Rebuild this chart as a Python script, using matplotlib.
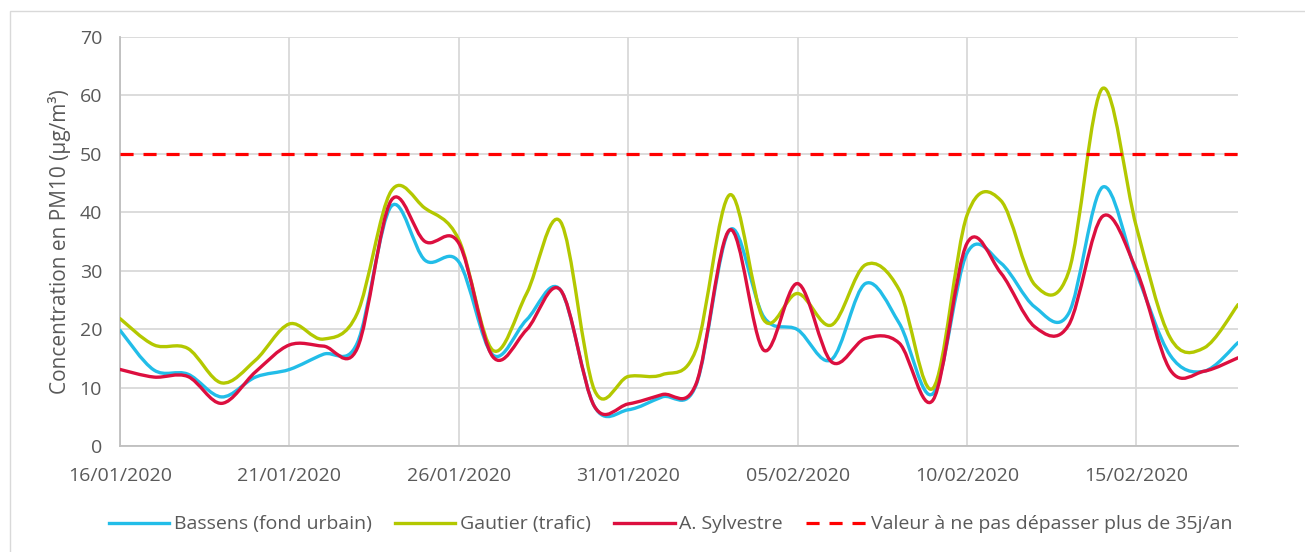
import numpy as np
import matplotlib
matplotlib.use("Agg")
from matplotlib import pyplot as plt
from matplotlib.path import Path
from matplotlib.patches import PathPatch, Rectangle
from matplotlib.lines import Line2D

plt.rcParams['font.family'] = ['Open Sans', 'DejaVu Sans']

# daily values, 16/01/2020 -> 18/02/2020
days = np.arange(34)
tick_days = [0, 5, 10, 15, 20, 25, 30]
tick_labels = ["16/01/2020", "21/01/2020", "26/01/2020", "31/01/2020",
               "05/02/2020", "10/02/2020", "15/02/2020"]

bassens = [19.8, 13.0, 12.3, 8.4, 11.8, 13.1, 15.7, 17.6, 41.0, 31.8,
           31.5, 15.6, 21.6, 26.7, 6.8, 6.2, 8.4, 10.4, 37.0, 22.1,
           19.9, 14.8, 27.8, 21.0, 9.0, 33.0, 31.3, 23.8, 22.7, 44.3,
           29.6, 15.5, 12.8, 17.7]
gautier = [21.8, 17.3, 16.7, 10.8, 14.7, 20.9, 18.3, 22.7, 43.6, 40.7,
           35.3, 16.4, 26.1, 38.4, 9.6, 11.9, 12.2, 16.5, 43.0, 21.6,
           26.1, 20.7, 31.0, 26.7, 9.9, 39.5, 42.0, 27.6, 29.8, 61.2,
           37.5, 18.5, 16.8, 24.2]
sylvestre = [13.1, 11.8, 11.9, 7.3, 12.7, 17.3, 17.1, 16.7, 42.0, 35.0,
             34.7, 15.3, 19.9, 26.7, 6.8, 7.2, 8.8, 10.6, 37.0, 16.4,
             27.8, 14.4, 18.4, 17.6, 7.9, 34.7, 29.6, 20.4, 20.7, 39.3,
             30.1, 13.0, 12.8, 15.1]
limit = 50

series = [("Bassens (fond urbain)", bassens, "#22bde8"),
          ("Gautier (trafic)", gautier, "#b3c800"),
          ("A. Sylvestre", sylvestre, "#dc0f3f")]


def smooth_path(x, y):
    # Excel-style smoothed line: Catmull-Rom segments as cubic Beziers
    pts = np.column_stack([x, y]).astype(float)
    n = len(pts)
    verts = [pts[0]]
    codes = [Path.MOVETO]
    for i in range(n - 1):
        p0 = pts[i - 1] if i > 0 else pts[i]
        p1 = pts[i]
        p2 = pts[i + 1]
        p3 = pts[i + 2] if i + 2 < n else pts[i + 1]
        c1 = p1 + (p2 - p0) / 6.0
        c2 = p2 - (p3 - p1) / 6.0
        verts += [c1, c2, p2]
        codes += [Path.CURVE4] * 3
    return Path(verts, codes)


fig = plt.figure(figsize=(13.05, 5.52), dpi=100)
ax = fig.add_axes([0.092, 0.192, 0.8567, 0.741])

# outer chart border
fig.patches.append(Rectangle((10 / 1305, -0.1), 1.2, 1.1 - 11 / 552,
                             transform=fig.transFigure, fill=False,
                             edgecolor="#d9d9d9", lw=1))

for name, vals, col in series:
    ax.add_patch(PathPatch(smooth_path(days, vals), fill=False,
                           edgecolor=col, lw=2.4, capstyle="round",
                           joinstyle="round", zorder=3))

ax.plot([days[0], days[-1]], [limit, limit], color="#ff0000", lw=2.3,
        dashes=(4.1, 3.1), zorder=4)

ax.set_xlim(0, 33)
ax.set_ylim(0, 70)
ax.set_yticks(range(0, 71, 10))
ax.set_xticks(tick_days)
ax.set_xticklabels(tick_labels)
ax.grid(True, color="#d9d9d9", lw=1.3)
ax.set_axisbelow(True)
for s in ["top", "right"]:
    ax.spines[s].set_visible(False)
ax.spines["left"].set_color("#bfbfbf")
ax.spines["bottom"].set_color("#bfbfbf")
ax.spines["left"].set_linewidth(1.3)
ax.spines["bottom"].set_linewidth(1.3)
ax.tick_params(axis="both", length=0, labelsize=14, labelcolor="#595959")
ax.tick_params(axis="x", pad=15)
ax.tick_params(axis="y", pad=13)
ax.set_ylabel("Concentration en PM10 (µg/m³)", fontsize=15,
              color="#595959", labelpad=6)

handles = [Line2D([], [], color=c, lw=2.4) for _, _, c in series]
handles.append(Line2D([], [], color="#ff0000", lw=2.3, dashes=(4.1, 3.1)))
labels = [s[0] for s in series] + ["Valeur à ne pas dépasser plus de 35j/an"]
fig.legend(handles, labels, loc="center", bbox_to_anchor=(0.514, 0.05),
           ncol=4, frameon=False, fontsize=14, labelcolor="#595959",
           handlelength=3.1, handletextpad=0.25, columnspacing=1.2)

fig.savefig("out.png", dpi=100, facecolor="white")
